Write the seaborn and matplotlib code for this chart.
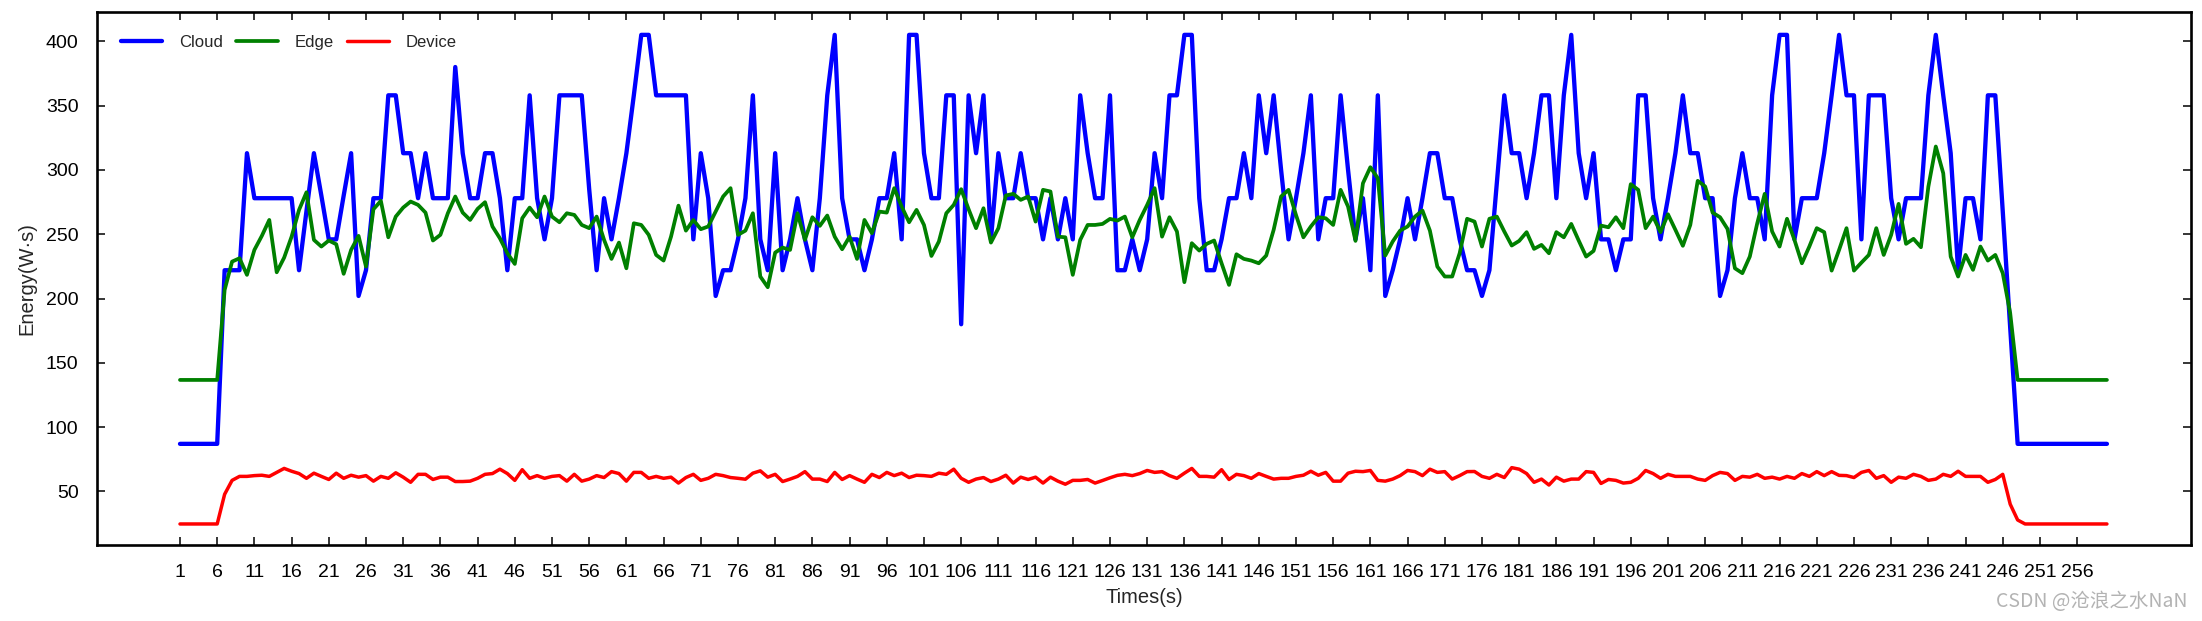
import matplotlib
matplotlib.use("Agg")
import pandas as pd
import matplotlib.pyplot as plt
import seaborn as sns

# ================= DATA =================
times = list(range(1, 261))

cloud = [
    87, 87, 87, 87, 87, 87, 222, 222, 222, 313,
    278, 278, 278, 278, 278, 278, 222, 268, 313, 280,
    246, 246, 280, 313, 202, 222, 278, 278, 358, 358,
    313, 313, 278, 313, 278, 278, 278, 380, 313, 278,
    278, 313, 313, 278, 222, 278, 278, 358, 278, 246,
    278, 358, 358, 358, 358, 285, 222, 278, 246, 278,
    313, 358, 405, 405, 358, 358, 358, 358, 358, 246,
    313, 278, 202, 222, 222, 246, 278, 358, 246, 222,
    313, 222, 246, 278, 246, 222, 278, 358, 405, 278,
    246, 246, 222, 246, 278, 278, 313, 246, 405, 405,
    313, 278, 278, 358, 358, 180, 358, 313, 358, 246,
    313, 278, 278, 313, 278, 278, 246, 278, 246, 278,
    246, 358, 313, 278, 278, 358, 222, 222, 246, 222,
    246, 313, 278, 358, 358, 405, 405, 278, 222, 222,
    246, 278, 278, 313, 278, 358, 313, 358, 300, 246,
    278, 313, 358, 246, 278, 278, 358, 300, 246, 278,
    222, 358, 202, 222, 246, 278, 246, 278, 313, 313,
    278, 278, 246, 222, 222, 202, 222, 290, 358, 313,
    313, 278, 313, 358, 358, 278, 358, 405, 313, 278,
    313, 246, 246, 222, 246, 246, 358, 358, 278, 246,
    278, 313, 358, 313, 313, 278, 278, 202, 222, 278,
    313, 278, 278, 246, 358, 405, 405, 246, 278, 278,
    278, 313, 358, 405, 358, 358, 246, 358, 358, 358,
    278, 246, 278, 278, 278, 358, 405, 358, 313, 222,
    278, 278, 246, 358, 358, 268, 178, 87, 87, 87,
    87, 87, 87, 87, 87, 87, 87, 87, 87, 87,
]

edge = [
    136.7, 136.7, 136.7, 136.7, 136.7, 136.7, 206.7, 228.7, 231.3, 218.4,
    237.8, 248.7, 261.1, 220.4, 231.8, 248.1, 268.9, 282.6, 245.6, 240.4,
    245.1, 242.2, 219.2, 237.8, 248.7, 224.8, 269.4, 275.9, 247.6, 263.7,
    270.7, 275.4, 272.8, 266.8, 245.1, 249.5, 266.3, 279.3, 266.8, 261.1,
    269.7, 274.9, 256.0, 246.8, 235.2, 226.9, 262.4, 270.7, 263.2, 279.3,
    263.7, 259.3, 266.3, 265.0, 257.2, 254.7, 263.7, 245.6, 230.8, 243.5,
    223.5, 258.5, 257.2, 249.5, 233.9, 229.5, 248.1, 272.2, 252.8, 261.1,
    253.9, 256.0, 267.6, 279.3, 285.8, 249.5, 252.8, 266.3, 217.1, 208.8,
    235.7, 239.6, 237.8, 266.3, 245.6, 263.2, 256.5, 264.5, 248.1, 238.3,
    248.1, 230.8, 261.1, 250.8, 267.6, 266.8, 285.8, 271.5, 259.3, 268.9,
    257.2, 233.1, 244.3, 266.3, 272.8, 285.0, 269.4, 254.7, 270.2, 243.5,
    254.7, 280.1, 281.4, 276.7, 279.3, 259.8, 284.5, 283.2, 248.1, 247.6,
    218.4, 245.6, 257.2, 257.2, 258.0, 261.9, 260.6, 263.7, 247.6, 261.1,
    272.8, 285.8, 248.1, 263.2, 252.1, 212.7, 243.0, 237.3, 242.5, 245.1,
    227.4, 210.6, 234.4, 230.8, 229.5, 227.4, 233.4, 253.4, 279.3, 284.5,
    265.0, 247.6, 256.0, 263.2, 262.4, 257.2, 284.5, 271.5, 244.8, 289.6,
    302.1, 293.5, 233.4, 244.3, 252.8, 256.0, 263.7, 268.4, 252.8, 224.8,
    217.1, 217.1, 235.2, 262.0, 259.8, 240.4, 262.0, 263.7, 252.1, 241.2,
    244.8, 251.6, 238.6, 241.7, 235.2, 251.6, 247.6, 258.0, 245.1, 232.6,
    237.0, 256.7, 255.4, 263.2, 254.7, 288.9, 284.5, 254.7, 263.7, 251.6,
    265.5, 253.4, 241.0, 257.2, 291.5, 287.1, 266.8, 263.2, 254.1, 223.5,
    219.7, 232.6, 258.5, 281.4, 252.1, 240.4, 262.0, 245.6, 227.4, 240.4,
    254.7, 251.6, 221.7, 237.8, 254.7, 221.7, 227.9, 233.9, 254.7, 233.9,
    249.5, 273.6, 242.5, 246.4, 239.9, 287.0, 318.2, 297.4, 232.6, 217.1,
    233.9, 222.3, 240.4, 229.5, 233.9, 219.7, 188.6, 136.7, 136.7, 136.7,
    136.7, 136.7, 136.7, 136.7, 136.7, 136.7, 136.7, 136.7, 136.7, 136.7,
]

device = [
    24.7, 24.7, 24.7, 24.7, 24.7, 24.7, 47.8, 58.6, 61.7, 61.7,
    62.3, 62.6, 61.7, 64.8, 67.9, 65.7, 63.9, 60.2, 64.2, 61.7,
    59.3, 64.2, 60.2, 62.6, 61.1, 62.3, 58.0, 61.7, 60.2, 64.5,
    61.1, 57.1, 63.3, 63.3, 59.3, 61.1, 61.1, 57.7, 57.7, 58.0,
    60.2, 63.3, 63.9, 67.3, 63.9, 58.6, 66.9, 60.2, 62.3, 60.2,
    61.7, 62.3, 58.0, 63.3, 58.0, 59.6, 62.3, 60.8, 65.4, 63.9,
    58.0, 64.8, 64.8, 60.2, 61.7, 60.2, 61.1, 56.5, 60.8, 63.3,
    58.6, 60.2, 63.3, 62.3, 60.8, 60.2, 59.5, 64.2, 66.0, 61.1,
    63.3, 57.7, 59.6, 61.7, 65.4, 59.6, 59.6, 57.7, 64.8, 59.3,
    62.3, 59.6, 57.1, 63.3, 60.8, 64.8, 62.3, 64.2, 60.8, 62.6,
    62.3, 61.7, 64.2, 63.3, 67.3, 60.2, 57.1, 59.6, 60.8, 57.7,
    59.6, 62.6, 56.5, 61.1, 59.3, 61.1, 56.5, 61.1, 58.0, 55.6,
    58.6, 58.6, 59.3, 56.5, 58.5, 60.6, 62.5, 63.3, 62.3, 63.9,
    66.3, 64.8, 65.4, 62.3, 60.2, 64.2, 67.9, 61.7, 61.7, 61.1,
    66.9, 59.3, 63.3, 62.3, 60.2, 63.9, 61.7, 59.6, 60.2, 60.2,
    61.7, 62.6, 65.7, 62.6, 64.8, 58.0, 58.0, 64.2, 65.7, 65.4,
    66.3, 58.6, 58.0, 59.6, 62.3, 66.3, 65.4, 62.3, 67.3, 64.8,
    65.4, 59.6, 62.3, 65.4, 65.5, 61.7, 60.2, 63.3, 60.8, 68.5,
    67.3, 63.9, 57.1, 59.6, 55.0, 61.1, 58.0, 59.6, 59.6, 65.4,
    64.8, 56.2, 59.3, 58.6, 56.5, 57.1, 60.2, 66.3, 63.9, 60.2,
    63.3, 61.7, 61.7, 61.7, 59.6, 58.6, 62.3, 64.8, 63.9, 58.6,
    61.7, 61.1, 63.3, 60.2, 61.1, 59.6, 61.7, 60.2, 63.9, 61.7,
    65.4, 62.3, 65.4, 62.5, 62.3, 60.8, 64.8, 66.3, 60.2, 62.3,
    57.1, 61.1, 60.2, 63.3, 61.7, 58.6, 59.6, 63.3, 61.7, 65.7,
    61.7, 61.7, 61.7, 57.1, 59.3, 63.3, 40.1, 27.8, 24.7, 24.7,
    24.7, 24.7, 24.7, 24.7, 24.7, 24.7, 24.7, 24.7, 24.7, 24.7,
]

x_ticks = list(range(1, 257, 5))
y_ticks = [50, 100, 150, 200, 250, 300, 350, 400]

df = pd.DataFrame({"Times": times, "Cloud": cloud, "Edge": edge, "Device": device})

# ================= STYLE =================
sns.set_theme(style="ticks")
plt.rcParams["font.family"] = ["Liberation Sans", "DejaVu Sans"]

fig = plt.figure(figsize=(22.02, 6.21), dpi=100)
ax = fig.add_axes([0.0439, 0.1229, 0.9511, 0.8572])

# ================= LINES =================
sns.lineplot(data=df, x="Times", y="Cloud", color="#0000FF", linewidth=3.1, label="Cloud", ax=ax)
sns.lineplot(data=df, x="Times", y="Edge", color="#008000", linewidth=2.7, label="Edge", ax=ax)
sns.lineplot(data=df, x="Times", y="Device", color="#FF0000", linewidth=2.5, label="Device", ax=ax)

ax.set_xlim(-10.2, 271.3)
ax.set_ylim(8.6, 422.5)
ax.set_xticks(x_ticks)
ax.set_yticks(y_ticks)
ax.tick_params(axis="both", direction="in", top=True, right=True, length=6, width=1.1,
               labelsize=14, colors="black")
ax.tick_params(axis="x", pad=14)
ax.tick_params(axis="y", pad=13)
for s in ax.spines.values():
    s.set_linewidth(1.9)
    s.set_color("black")

ax.set_xlabel("Times(s)", fontsize=14.5, labelpad=5)
ax.set_ylabel("Energy(W·s)", fontsize=14.5, labelpad=7)

ax.legend(loc="upper left", bbox_to_anchor=(0.0115, 0.958), ncol=3, frameon=False,
          fontsize=12, handlelength=2.5, handletextpad=1.0, columnspacing=0.8,
          borderpad=0, borderaxespad=0)

fig.text(0.9932, 0.032, "CSDN @沧浪之水NaN", ha="right", va="center", fontsize=14,
         color="#b3b3b3", family=["Noto Sans CJK SC", "DejaVu Sans"])

fig.savefig("out.png", dpi=100)
plt.close(fig)
